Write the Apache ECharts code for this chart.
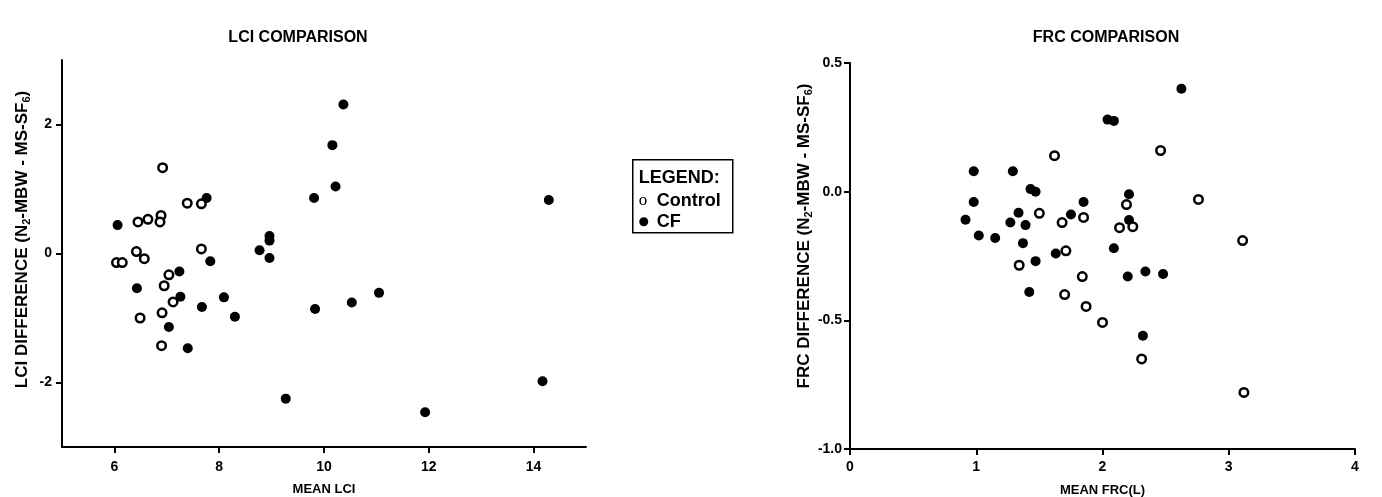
<!DOCTYPE html>
<html>
<head>
<meta charset="utf-8">
<script src="https://cdn.jsdelivr.net/npm/echarts@6/dist/echarts.min.js"></script>
<style>
html,body{margin:0;padding:0;background:#fff;}
#c{width:1382px;height:497px;}
</style>
</head>
<body>
<div id="c"></div>
<script>
// LCI comparison
var lciControlX = [6.92, 7.39, 7.66, 6.45, 6.64, 6.89, 6.87, 7.66, 6.42, 6.04, 6.15, 6.57, 7.04, 6.95, 7.12, 6.91, 6.49, 6.90];
var lciControlY = [1.33, 0.78, 0.77, 0.49, 0.53, 0.59, 0.49, 0.07, 0.03, -0.14, -0.14, -0.08, -0.33, -0.50, -0.75, -0.92, -1.00, -1.43];
var lciCfX = [7.76, 9.81, 6.06, 8.96, 8.96, 8.77, 7.83, 8.96, 7.24, 6.43, 7.26, 8.09, 7.67, 8.30, 9.83, 7.04, 7.40, 9.27, 10.37, 10.16, 10.22, 14.29, 10.53, 11.05, 11.93, 14.17];
var lciCfY = [0.86, 0.86, 0.44, 0.27, 0.20, 0.05, -0.12, -0.07, -0.28, -0.54, -0.67, -0.68, -0.83, -0.98, -0.86, -1.14, -1.47, -2.25, 2.31, 1.68, 1.04, 0.83, -0.76, -0.61, -2.46, -1.98];
// FRC comparison
var frcControlX = [1.34, 1.62, 2.46, 2.19, 2.76, 1.50, 1.85, 1.68, 2.135, 2.24, 1.71, 3.11, 1.84, 1.70, 1.87, 2.00, 2.31, 3.12];
var frcControlY = [-0.286, 0.14, 0.16, -0.05, -0.03, -0.084, -0.10, -0.12, -0.14, -0.136, -0.23, -0.19, -0.33, -0.40, -0.446, -0.508, -0.65, -0.78];
var frcCfX = [0.98, 1.29, 1.43, 1.47, 0.98, 0.915, 1.335, 1.27, 1.39, 1.02, 1.15, 1.37, 1.47, 2.625, 2.04, 2.09, 2.21, 1.85, 1.75, 2.21, 1.63, 2.09, 2.20, 2.34, 2.48, 1.42, 2.32];
var frcCfY = [0.079, 0.079, 0.01, 0.0, -0.04, -0.109, -0.082, -0.12, -0.13, -0.17, -0.18, -0.20, -0.27, 0.40, 0.28, 0.275, -0.01, -0.04, -0.089, -0.11, -0.24, -0.22, -0.33, -0.31, -0.32, -0.39, -0.56];
// Axis ticks / labels
var lciXTicks = [6, 8, 10, 12, 14];
var lciYTicks = [-2, 0, 2];
var titles = ['LCI COMPARISON', 'FRC COMPARISON'];
var xNames = ['MEAN LCI', 'MEAN FRC(L)'];
var legendLabels = ['LEGEND:', 'Control', 'CF'];

function zip(xs, ys) { return xs.map(function (x, i) { return [x, ys[i]]; }); }

var FONT = '"Liberation Sans", Arial, sans-serif';
var axisLine = { show: true, onZero: false, lineStyle: { color: '#000', width: 2 } };
function tick(custom) {
  var t = { show: true, inside: false, length: 6, lineStyle: { color: '#000', width: 2 } };
  if (custom) t.customValues = custom;
  return t;
}
function labels(margin, extra) {
  var l = { color: '#000', fontWeight: 'bold', fontSize: 14, fontFamily: FONT, margin: margin };
  for (var k in extra) l[k] = extra[k];
  return l;
}
var nameStyle = { color: '#000', fontWeight: 'bold', fontSize: 13, fontFamily: FONT };

function yName(prefix) {
  return '{a|' + prefix + ' DIFFERENCE (N}{s|2}{a|-MBW - MS-SF}{s|6}{a|)}';
}
function yNameStyle(padStart) {
  return {
    color: '#000', fontWeight: 'bold', fontSize: 17, fontFamily: FONT,
    padding: [0, 0, 0, padStart],
    rich: {
      a: { color: '#000', fontWeight: 'bold', fontSize: 17, fontFamily: FONT, lineHeight: 20 },
      s: { color: '#000', fontWeight: 'bold', fontSize: 11, fontFamily: FONT, verticalAlign: 'bottom', lineHeight: 20, padding: [8, 0, 0, 0] }
    }
  };
}

var openSym = { color: '#fff', borderColor: '#000', borderWidth: 2.5, opacity: 1 };
var fillSym = { color: '#000', borderColor: '#000', borderWidth: 0, opacity: 1 };

var chart = echarts.init(document.getElementById('c'), null, { renderer: 'canvas' });
chart.setOption({
  backgroundColor: '#fff',
  animation: false,
  title: [
    { text: titles[0], left: 293, top: 25, textAlign: 'center', textStyle: { color: '#000', fontWeight: 'bold', fontSize: 16, fontFamily: FONT } },
    { text: titles[1], left: 1101, top: 25, textAlign: 'center', textStyle: { color: '#000', fontWeight: 'bold', fontSize: 16, fontFamily: FONT } }
  ],
  grid: [
    { left: 62, top: 60, width: 524, height: 387, containLabel: false, outerBoundsMode: 'none' },
    { left: 850, top: 63, width: 505, height: 386, containLabel: false, outerBoundsMode: 'none' }
  ],
  xAxis: [
    {
      gridIndex: 0, type: 'value', min: 5, max: 15,
      axisLine: axisLine, splitLine: { show: false },
      axisTick: tick(lciXTicks),
      axisLabel: labels(13, { customValues: lciXTicks }),
      name: xNames[0], nameLocation: 'middle', nameGap: 36, nameTextStyle: nameStyle
    },
    {
      gridIndex: 1, type: 'value', min: 0, max: 4, interval: 1,
      axisLine: axisLine, splitLine: { show: false }, axisTick: tick(),
      axisLabel: labels(11, {}),
      name: xNames[1], nameLocation: 'middle', nameGap: 35, nameTextStyle: nameStyle
    }
  ],
  yAxis: [
    {
      gridIndex: 0, type: 'value', min: -3, max: 3,
      axisLine: axisLine, splitLine: { show: false },
      axisTick: tick(lciYTicks),
      axisLabel: labels(10, { customValues: lciYTicks }),
      name: yName('LCI'), nameLocation: 'middle', nameRotate: 90, nameGap: 30, nameTextStyle: yNameStyle(28)
    },
    {
      gridIndex: 1, type: 'value', min: -1, max: 0.5, interval: 0.5,
      axisLine: axisLine, splitLine: { show: false }, axisTick: tick(),
      axisLabel: labels(8, { formatter: function (v) { return v.toFixed(1); } }),
      name: yName('FRC'), nameLocation: 'middle', nameRotate: 90, nameGap: 19, nameTextStyle: yNameStyle(40)
    }
  ],
  series: [
    { name: 'Control', type: 'scatter', xAxisIndex: 0, yAxisIndex: 0, symbol: 'circle', symbolSize: 8.5, itemStyle: openSym, data: zip(lciControlX, lciControlY), z: 3 },
    { name: 'CF', type: 'scatter', xAxisIndex: 0, yAxisIndex: 0, symbol: 'circle', symbolSize: 10, itemStyle: fillSym, data: zip(lciCfX, lciCfY), z: 2 },
    { name: 'Control', type: 'scatter', xAxisIndex: 1, yAxisIndex: 1, symbol: 'circle', symbolSize: 8.5, itemStyle: openSym, data: zip(frcControlX, frcControlY), z: 3 },
    { name: 'CF', type: 'scatter', xAxisIndex: 1, yAxisIndex: 1, symbol: 'circle', symbolSize: 10, itemStyle: fillSym, data: zip(frcCfX, frcCfY), z: 2 }
  ],
  graphic: [
    {
      type: 'group', left: 632, top: 159,
      children: [
        { type: 'rect', shape: { x: 0, y: 0, width: 100, height: 73 }, style: { fill: '#fff', stroke: '#000', lineWidth: 1.5 } },
        { type: 'text', x: 6, y: 18, style: { text: legendLabels[0], fill: '#000', font: 'bold 18px "Liberation Sans", Arial, sans-serif', verticalAlign: 'middle' } },
        { type: 'text', x: 6, y: 41, style: { text: 'o', fill: '#000', font: '17px "Liberation Serif", "Times New Roman", serif', verticalAlign: 'middle' } },
        { type: 'text', x: 24, y: 41, style: { text: legendLabels[1], fill: '#000', font: 'bold 18px "Liberation Sans", Arial, sans-serif', verticalAlign: 'middle' } },
        { type: 'circle', shape: { cx: 11, cy: 62, r: 4.5 }, style: { fill: '#000' } },
        { type: 'text', x: 24, y: 62, style: { text: legendLabels[2], fill: '#000', font: 'bold 18px "Liberation Sans", Arial, sans-serif', verticalAlign: 'middle' } }
      ]
    }
  ]
});
</script>
</body>
</html>
